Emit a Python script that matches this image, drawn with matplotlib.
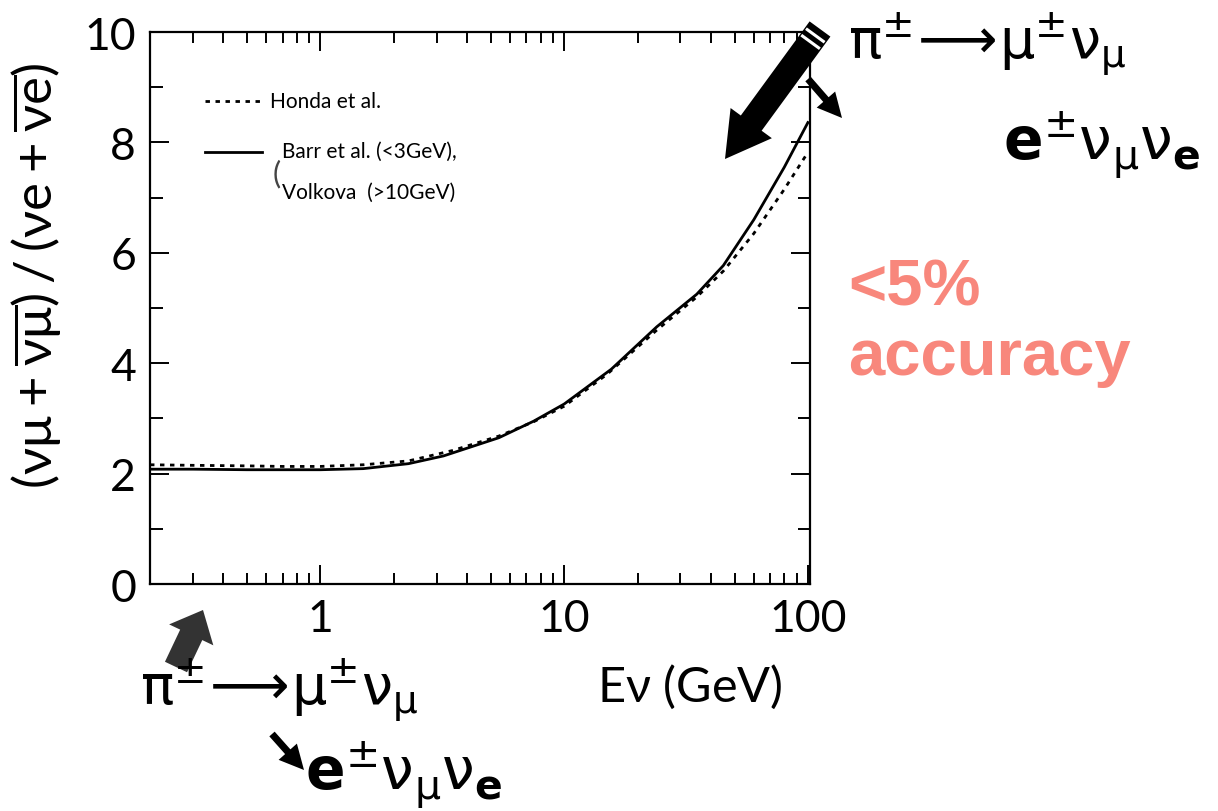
import numpy as np
import matplotlib
matplotlib.use("Agg")
import matplotlib.pyplot as plt
from matplotlib.ticker import FixedLocator, LogLocator, NullFormatter

plt.rcParams["mathtext.fontset"] = "dejavusans"
plt.rcParams["mathtext.default"] = "regular"

# Flux ratio (numu + numubar) / (nue + nuebar) vs neutrino energy
honda_e = [0.2, 0.3, 0.5, 0.7, 1.0, 1.5, 2.3, 3.5, 5.4, 7.5, 10, 15, 24, 35, 45, 60, 80, 100]
honda_ratio = [2.16, 2.15, 2.14, 2.13, 2.13, 2.16, 2.23, 2.42, 2.68, 2.94, 3.22, 3.80, 4.60, 5.20, 5.67, 6.35, 7.15, 7.82]

barr_e = [0.2, 0.3, 0.5, 0.7, 1.0, 1.5, 2.3, 3.2, 5.4, 7.5, 10, 15.6, 24, 35, 45, 60, 80, 100]
barr_ratio = [2.08, 2.08, 2.07, 2.07, 2.07, 2.09, 2.18, 2.32, 2.65, 2.95, 3.26, 3.89, 4.66, 5.25, 5.77, 6.60, 7.55, 8.36]

y_ticks = [0, 2, 4, 6, 8, 10]
y_minor = [1, 3, 5, 7, 9]
x_ticks = [1, 10, 100]
x_tick_labels = ["1", "10", "100"]

W, H = 1218, 812
fig = plt.figure(figsize=(W / 100, H / 100), dpi=100)
ax = fig.add_axes([150 / W, 1 - 585 / H, 660 / W, 552 / H])

ax.plot(honda_e, honda_ratio, color="black", lw=2.0, ls=(0, (1.6, 2.0)))
ax.plot(barr_e, barr_ratio, color="black", lw=2.0, ls="-")

ax.set_xscale("log")
ax.set_xlim(0.2, 102)
ax.set_ylim(0, 10)

ax.xaxis.set_major_locator(FixedLocator(x_ticks))
ax.set_xticklabels(x_tick_labels)
ax.xaxis.set_minor_locator(LogLocator(base=10, subs=np.arange(2, 10)))
ax.xaxis.set_minor_formatter(NullFormatter())
ax.yaxis.set_major_locator(FixedLocator(y_ticks))
ax.yaxis.set_minor_locator(FixedLocator(y_minor))

hand = ["Lato", "DejaVu Sans"]
for lab in ax.get_xticklabels() + ax.get_yticklabels():
    lab.set_fontfamily(hand)
    lab.set_fontsize(32)

ax.tick_params(which="both", direction="in", top=True, right=True, width=1.4)
ax.tick_params(which="major", length=14, pad=10)
ax.tick_params(axis="y", which="minor", length=9)
ax.tick_params(axis="x", which="minor", length=8)
for sp in ax.spines.values():
    sp.set_linewidth(1.6)

ax.set_xlabel(r"E$\nu$ (GeV)", fontsize=35, family=hand)
ax.xaxis.set_label_coords(0.818, -0.14)
ax.set_ylabel(r"$(\nu\mu+\overline{\nu\mu})\,/\,(\nu e+\overline{\nu e})$",
              fontsize=38, family=hand)
ax.yaxis.set_label_coords(-0.13, 0.56)

# hand-drawn style key
ax.plot([0.083, 0.17], [0.875, 0.875], transform=ax.transAxes, color="black",
        lw=2.0, ls=(0, (1.6, 2.0)))
ax.text(0.182, 0.875, "Honda et al.", transform=ax.transAxes, fontsize=15,
        va="center", family=hand)
ax.plot([0.083, 0.17], [0.783, 0.783], transform=ax.transAxes, color="black", lw=2.0)
ax.text(0.2, 0.785, "Barr et al. (<3GeV),", transform=ax.transAxes, fontsize=15,
        va="center", family=hand)
ax.text(0.2, 0.71, "Volkova  (>10GeV)", transform=ax.transAxes, fontsize=15,
        va="center", family=hand)
ax.text(0.186, 0.745, "(", transform=ax.transAxes, fontsize=22, va="center",
        family=hand, color="#444444")

# decay chain annotations
line1 = r"$\pi^{\pm}\!\longrightarrow\!\mu^{\pm}\nu_{\mu}$"
line2 = r"$\mathbf{e}^{\pm}\nu_{\mu}\nu_{\mathbf{e}}$"

fig.text(848 / W, 1 - 58 / H, line1, fontsize=40, va="baseline", ha="left")
fig.text(1003 / W, 1 - 160 / H, line2, fontsize=42, va="baseline", ha="left")
fig.text(140 / W, 1 - 705 / H, line1, fontsize=40, va="baseline", ha="left")
fig.text(305 / W, 1 - 790 / H, line2, fontsize=42, va="baseline", ha="left")

fig.text(848 / W, 1 - 375 / H, "<5%\naccuracy", fontsize=47, weight="bold",
         color="#f8877c", family=["Liberation Sans", "DejaVu Sans"],
         va="baseline", ha="left", linespacing=1.2)


def arrow(tail, tip, style, scale, color="black"):
    ax.annotate("", xy=(tip[0], H - tip[1]), xytext=(tail[0], H - tail[1]),
                xycoords="figure pixels", textcoords="figure pixels",
                arrowprops=dict(arrowstyle=style, color=color, lw=0,
                                shrinkA=0, shrinkB=0, mutation_scale=scale),
                annotation_clip=False)


# big arrows pointing at the axis ends
big_tail, big_tip = np.array([820.0, 30.0]), np.array([725.0, 160.0])
arrow(big_tail, big_tip, "simple,head_length=1.0,head_width=1.15,tail_width=0.58", 32)
d = (big_tip - big_tail) / np.hypot(*(big_tip - big_tail))
p = np.array([d[1], -d[0]])
for off in (8, 16):
    c = big_tail + d * off
    a, b = c - p * 10, c + p * 10
    fig.add_artist(plt.Line2D([a[0] / W, b[0] / W], [1 - a[1] / H, 1 - b[1] / H],
                              color="white", lw=2.2))

arrow((176, 668), (203, 611), "simple,head_length=0.9,head_width=1.6,tail_width=0.8",
      22, color="#333333")
# small arrows for the muon decay
arrow((808, 80), (842, 119), "simple,head_length=1.1,head_width=1.1,tail_width=0.32", 16)
arrow((272, 735), (304, 771), "simple,head_length=1.1,head_width=1.1,tail_width=0.32", 16)

fig.savefig("out.png", dpi=100)
